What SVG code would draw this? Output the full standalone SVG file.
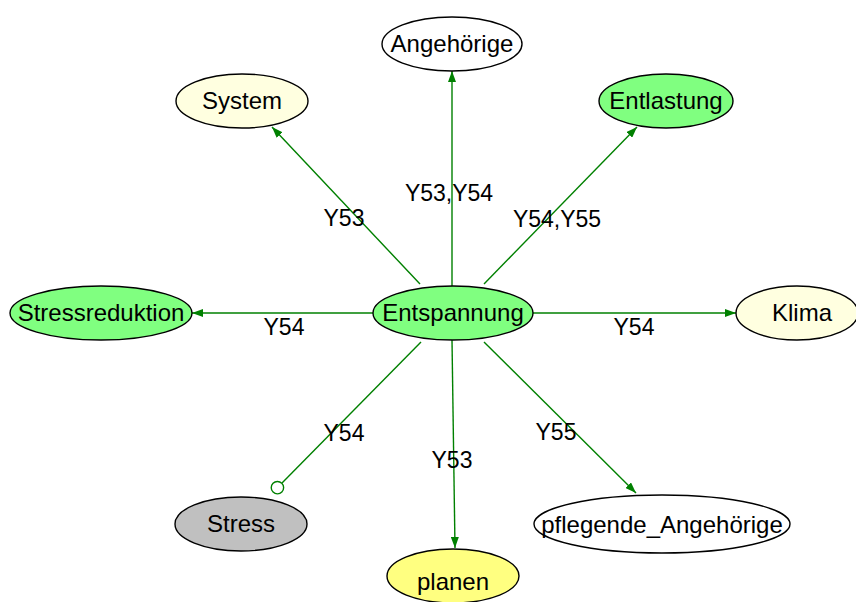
<svg xmlns="http://www.w3.org/2000/svg" width="856" height="602" viewBox="0 0 856 602">
  <defs>
    <marker id="arrow" viewBox="0 0 11 8" refX="11" refY="4" markerWidth="11" markerHeight="8" markerUnits="userSpaceOnUse" orient="auto">
      <path d="M0,0 L11,4 L0,8 z" fill="#008000"/>
    </marker>
    <marker id="odot" viewBox="0 0 16 16" refX="1.5" refY="8" markerWidth="16" markerHeight="16" markerUnits="userSpaceOnUse" orient="auto">
      <circle cx="8" cy="8" r="6.2" fill="#ffffff" stroke="#008000" stroke-width="1.4"/>
    </marker>
    <style>
      .node ellipse { stroke: #000000; stroke-width: 1.4; }
      .node text { font-family: "Liberation Sans", Arial, sans-serif; font-size: 24px; fill: #000000; text-anchor: middle; }
      .edge line { stroke: #008000; stroke-width: 1.4; fill: none; }
      .lbl { font-family: "Liberation Sans", Arial, sans-serif; font-size: 23px; fill: #000000; text-anchor: middle; }
      .arr { marker-end: url(#arrow); }
      .dot { marker-end: url(#odot); }
    </style>
  </defs>
  <rect width="856" height="602" fill="#ffffff"/>

  <g id="edges" class="edge">
    <line class="arr" x1="452" y1="286" x2="452" y2="71"/>
    <line class="arr" x1="420" y1="284" x2="272" y2="127"/>
    <line class="arr" x1="484" y1="284" x2="637" y2="127"/>
    <line class="arr" x1="373" y1="313" x2="192" y2="313"/>
    <line class="arr" x1="533" y1="313" x2="736" y2="313"/>
    <line class="dot" x1="421" y1="342" x2="282" y2="483"/>
    <line class="arr" x1="452" y1="340" x2="455" y2="548"/>
    <line class="arr" x1="484" y1="342" x2="636" y2="493"/>
    <text class="lbl" x="449" y="201">Y53,Y54</text>
    <text class="lbl" x="344" y="226">Y53</text>
    <text class="lbl" x="557" y="227">Y54,Y55</text>
    <text class="lbl" x="284" y="335">Y54</text>
    <text class="lbl" x="634" y="335">Y54</text>
    <text class="lbl" x="344" y="441">Y54</text>
    <text class="lbl" x="452" y="468">Y53</text>
    <text class="lbl" x="556" y="440">Y55</text>
  </g>

  <g id="Entspannung" class="node">
    <ellipse cx="453" cy="313" rx="80" ry="27" fill="#80ff80"/>
    <text x="453" y="321">Entspannung</text>
  </g>
  <g id="Angehoerige" class="node">
    <ellipse cx="452" cy="44" rx="70" ry="27" fill="#ffffff"/>
    <text x="452" y="52">Angehörige</text>
  </g>
  <g id="System" class="node">
    <ellipse cx="242" cy="101" rx="66" ry="27" fill="#ffffe0"/>
    <text x="242" y="109">System</text>
  </g>
  <g id="Entlastung" class="node">
    <ellipse cx="666" cy="101" rx="67" ry="27" fill="#80ff80"/>
    <text x="666" y="109">Entlastung</text>
  </g>
  <g id="Stressreduktion" class="node">
    <ellipse cx="101" cy="313" rx="91" ry="27" fill="#80ff80"/>
    <text x="101" y="321">Stressreduktion</text>
  </g>
  <g id="Klima" class="node">
    <ellipse cx="797" cy="313" rx="61" ry="27" fill="#ffffe0"/>
    <text x="802" y="321">Klima</text>
  </g>
  <g id="Stress" class="node">
    <ellipse cx="241" cy="524" rx="66" ry="27" fill="#c0c0c0"/>
    <text x="241" y="532">Stress</text>
  </g>
  <g id="planen" class="node">
    <ellipse cx="453" cy="576" rx="66" ry="27" fill="#ffff80"/>
    <text x="453" y="590">planen</text>
  </g>
  <g id="pflegende_Angehoerige" class="node">
    <ellipse cx="662" cy="524" rx="128" ry="29" fill="#ffffff"/>
    <text x="662" y="533">pflegende_Angehörige</text>
  </g>
</svg>
